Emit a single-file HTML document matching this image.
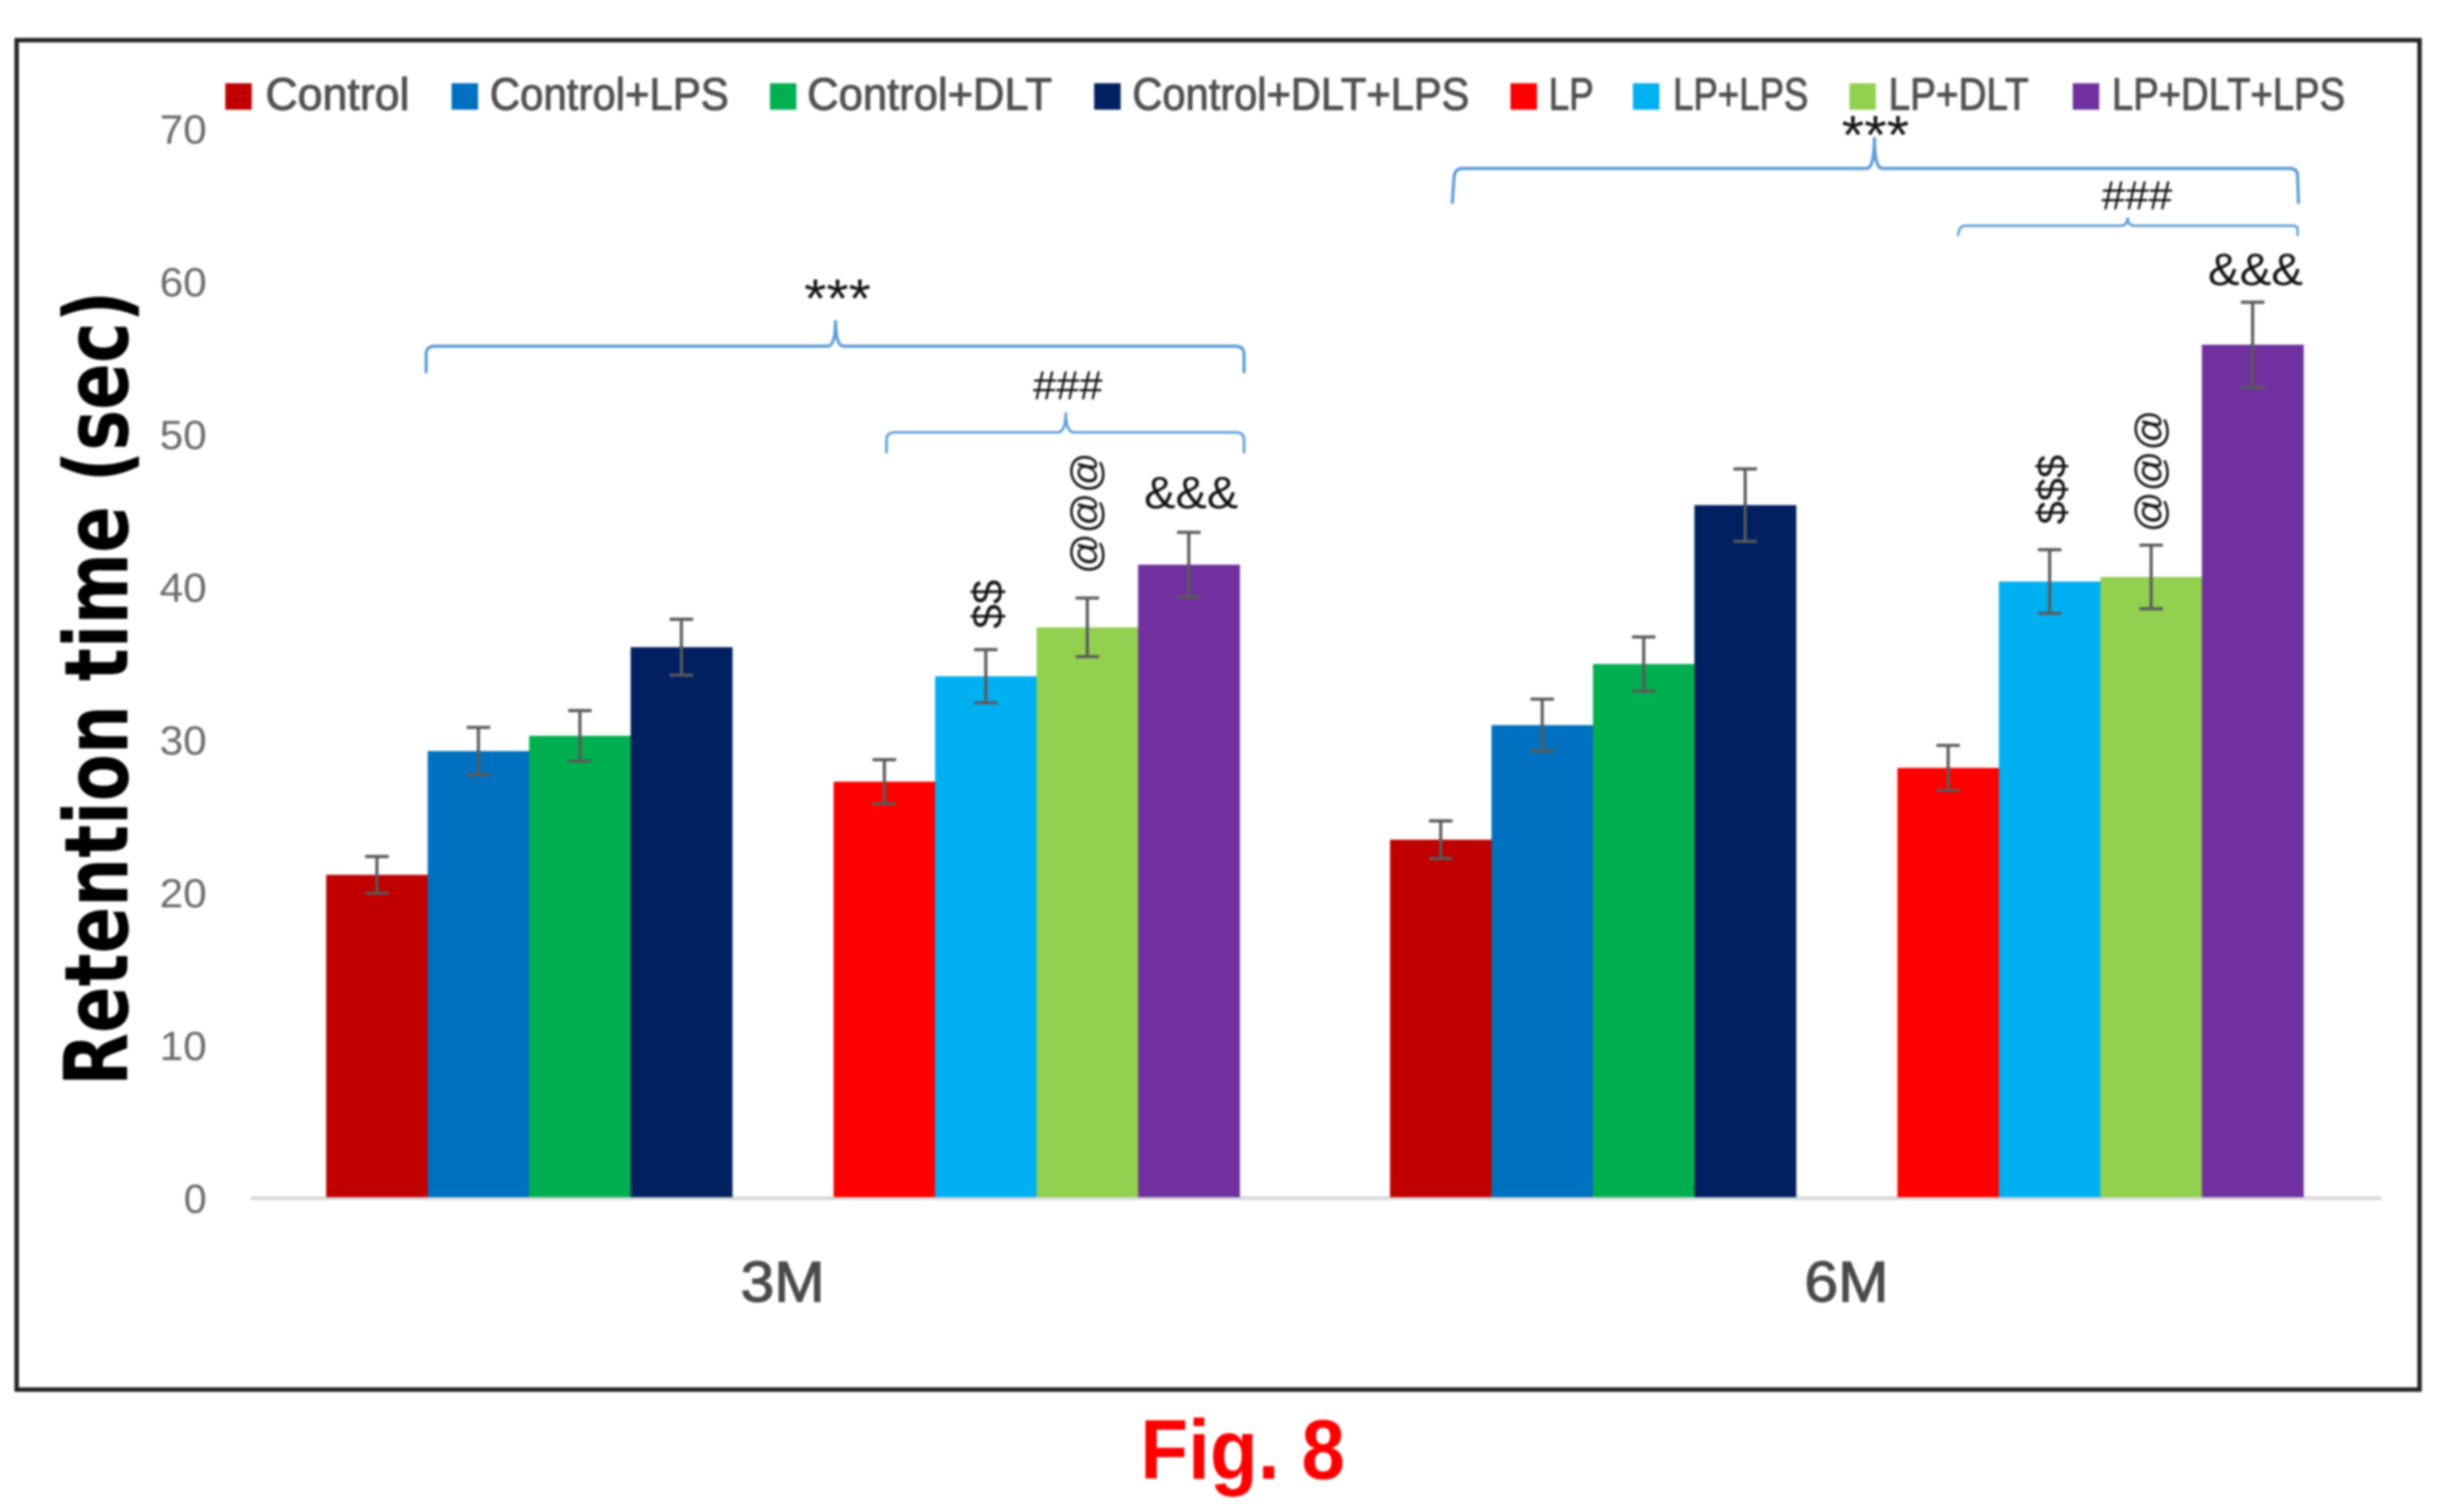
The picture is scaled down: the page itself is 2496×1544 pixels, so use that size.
<!DOCTYPE html>
<html lang="en">
<head>
<meta charset="utf-8">
<title>Fig. 8 Retention time</title>
<style>
html,body{margin:0;padding:0;background:#fff;width:2496px;height:1544px;overflow:hidden}
svg{display:block;filter:blur(1px)}
text{font-family:"Liberation Sans",sans-serif}
.legend-text{font-size:46px;fill:#505050;stroke:#505050;stroke-width:1px}
.note{fill:#111;font-size:44px}
.brace{fill:none;stroke:#5B9BD5}
</style>
</head>
<body>
<svg id="chart" xmlns="http://www.w3.org/2000/svg" width="2496" height="1544" viewBox="0 0 2496 1544">
  <rect x="17" y="41" width="2453" height="1378" fill="#fff" stroke="#222" stroke-width="4.5"/>

  <g>
    <g><rect x="230" y="85" width="27" height="27" fill="#C00000"/><text class="legend-text" x="271" y="112" textLength="147" lengthAdjust="spacingAndGlyphs">Control</text></g>
    <g><rect x="461" y="85" width="27" height="27" fill="#0070C0"/><text class="legend-text" x="500" y="112" textLength="244" lengthAdjust="spacingAndGlyphs">Control+LPS</text></g>
    <g><rect x="786" y="85" width="27" height="27" fill="#00B050"/><text class="legend-text" x="824" y="112" textLength="250" lengthAdjust="spacingAndGlyphs">Control+DLT</text></g>
    <g><rect x="1117" y="85" width="27" height="27" fill="#002060"/><text class="legend-text" x="1156" y="112" textLength="344" lengthAdjust="spacingAndGlyphs">Control+DLT+LPS</text></g>
    <g><rect x="1542" y="85" width="27" height="27" fill="#FF0000"/><text class="legend-text" x="1581" y="112" textLength="46" lengthAdjust="spacingAndGlyphs">LP</text></g>
    <g><rect x="1667" y="85" width="27" height="27" fill="#00B0F0"/><text class="legend-text" x="1708" y="112" textLength="138" lengthAdjust="spacingAndGlyphs">LP+LPS</text></g>
    <g><rect x="1888" y="85" width="27" height="27" fill="#92D050"/><text class="legend-text" x="1928" y="112" textLength="143" lengthAdjust="spacingAndGlyphs">LP+DLT</text></g>
    <g><rect x="2116" y="85" width="27" height="27" fill="#7030A0"/><text class="legend-text" x="2156" y="112" textLength="238" lengthAdjust="spacingAndGlyphs">LP+DLT+LPS</text></g>
  </g>

  <text transform="translate(130,703) rotate(-90)" text-anchor="middle" textLength="812" lengthAdjust="spacingAndGlyphs" style="font-family:'DejaVu Sans',sans-serif;font-weight:bold;font-size:90px" fill="#000">Retention time (sec)</text>

  <g id="ticks"></g>
  <line id="xaxis" stroke="#D9D9D9" stroke-width="4"/>
  <g id="bars"></g>
  <g id="errs"></g>
  <g id="cats"></g>

  <g>
    <path class="brace" stroke-width="3.2" d="M435 381 L435 362 Q435 354 443 353.5 L845 353.5 Q853 353 853 327 Q853 353 861 353.5 L1262 353.5 Q1270 354 1270 362 L1270 381"/>
    <path class="brace" stroke-width="2.6" d="M905 463 L905 449 Q905 442 913 441.5 L1080 441.5 Q1088 441 1088 421 Q1088 441 1096 441.5 L1262 441.5 Q1270 442 1270 449 L1270 463"/>
    <text class="note" x="855" y="324" text-anchor="middle" textLength="68" lengthAdjust="spacingAndGlyphs" style="font-size:56px">***</text>
    <text class="note" x="1090" y="408" text-anchor="middle" textLength="71" lengthAdjust="spacingAndGlyphs" style="font-size:42px">###</text>
    <text class="note" transform="translate(1023,617) rotate(-90)" text-anchor="middle" textLength="50" lengthAdjust="spacingAndGlyphs" style="font-size:44px">$$</text>
    <text class="note" transform="translate(1122,524) rotate(-90)" text-anchor="middle" textLength="124" lengthAdjust="spacingAndGlyphs" style="font-size:41px">@@@</text>
    <text class="note" x="1216" y="519" text-anchor="middle" textLength="96" lengthAdjust="spacingAndGlyphs" style="font-size:46px">&amp;&amp;&amp;</text>
  </g>
  <g transform="translate(-2.5,0)">
    <path class="brace" stroke-width="3.2" d="M1485 208 L1487 180 Q1488 172 1496 172 L1908 172 Q1916 172 1916 140 Q1916 172 1924 172 L2340 172 Q2348 172 2348 180 L2349 208"/>
    <path class="brace" stroke-width="2.4" d="M2001 241 L2003 234 Q2004 230.5 2010 230.5 L2168 230.5 Q2174 230.5 2174.5 222 Q2175 230.5 2181 230.5 L2342 230.5 Q2348 230.5 2348 234 L2348 241"/>
    <text class="note" x="1917" y="157" text-anchor="middle" textLength="69" lengthAdjust="spacingAndGlyphs" style="font-size:56px">***</text>
    <text class="note" x="2184" y="214" text-anchor="middle" textLength="72" lengthAdjust="spacingAndGlyphs" style="font-size:42px">###</text>
    <text class="note" transform="translate(2111,500) rotate(-90)" text-anchor="middle" textLength="71" lengthAdjust="spacingAndGlyphs" style="font-size:42px">$$$</text>
    <text class="note" transform="translate(2211,481) rotate(-90)" text-anchor="middle" textLength="125" lengthAdjust="spacingAndGlyphs" style="font-size:41px">@@@</text>
    <text class="note" x="2305" y="291" text-anchor="middle" textLength="97" lengthAdjust="spacingAndGlyphs" style="font-size:46px">&amp;&amp;&amp;</text>
  </g>

  <text x="1164" y="1510" textLength="209" lengthAdjust="spacingAndGlyphs" style="font-weight:bold;font-size:86px" fill="#FF0000">Fig. 8</text>
</svg>
<script>
const categories = ['3M', '6M'];
const seriesNames = ['Control', 'Control+LPS', 'Control+DLT', 'Control+DLT+LPS', 'LP', 'LP+LPS', 'LP+DLT', 'LP+DLT+LPS'];
const seriesColors = ['#C00000', '#0070C0', '#00B050', '#002060', '#FF0000', '#00B0F0', '#92D050', '#7030A0'];
const values3M = [21.1, 29.2, 30.2, 36.0, 27.2, 34.1, 37.3, 41.4];
const values6M = [23.4, 30.9, 34.9, 45.3, 28.1, 40.3, 40.6, 55.8];
const errors3M = [1.2, 1.55, 1.65, 1.83, 1.44, 1.74, 1.92, 2.12];
const errors6M = [1.23, 1.7, 1.77, 2.37, 1.47, 2.08, 2.08, 2.78];
const yTicks = [0, 10, 20, 30, 40, 50, 60, 70];

const NS = 'http://www.w3.org/2000/svg';
const baseY = 1222.5, unitPx = 15.6;
const plotLeft = 256, catWidth = 1086, catPad = 77, slot = 103.6, axisRight = 2431;
const yScale = v => baseY - v * unitPx;
const xSlot = (c, s) => plotLeft + catWidth * c + catPad + slot * (s < 4 ? s : s + 1);
const xCatCenter = c => plotLeft + catWidth * c + catWidth / 2;
const slug = s => s.toLowerCase().replace(/\+/g, '-');

function mk(tag, attrs, parent) {
  const el = document.createElementNS(NS, tag);
  for (const k in attrs) el.setAttribute(k, attrs[k]);
  parent.appendChild(el);
  return el;
}

const xaxis = document.getElementById('xaxis');
xaxis.setAttribute('x1', plotLeft);
xaxis.setAttribute('x2', axisRight);
xaxis.setAttribute('y1', baseY + 1);
xaxis.setAttribute('y2', baseY + 1);

const ticksG = document.getElementById('ticks');
yTicks.forEach(t => {
  const el = mk('text', {x: 211, y: yScale(t) + 16, 'text-anchor': 'end', fill: '#6a6a6a', 'font-size': 42}, ticksG);
  
  
  if (t > 0) { el.setAttribute('textLength', 48); el.setAttribute('lengthAdjust', 'spacingAndGlyphs'); }
  el.textContent = t;
});

const barsG = document.getElementById('bars');
const errsG = document.getElementById('errs');
[values3M, values6M].forEach((vals, c) => {
  const errs = c === 0 ? errors3M : errors6M;
  vals.forEach((v, s) => {
    const x = xSlot(c, s), top = yScale(v);
    const bar = mk('rect', {x: x, y: top, width: slot + 0.4, height: baseY - top, fill: seriesColors[s]}, barsG);
    
    
    const cx = x + slot / 2, yu = yScale(v + errs[s]), yl = yScale(v - errs[s]);
    const err = mk('path', {d: 'M' + (cx - 12) + ' ' + yu + 'H' + (cx + 12) + 'M' + cx + ' ' + yu + 'V' + yl + 'M' + (cx - 12) + ' ' + yl + 'H' + (cx + 12), fill: 'none', stroke: '#5a5a5a', 'stroke-width': 3.2}, errsG);
    
    
  });
});

const catsG = document.getElementById('cats');
categories.forEach((name, c) => {
  const el = mk('text', {x: xCatCenter(c), y: 1329, 'text-anchor': 'middle', fill: '#4a4a4a', stroke: '#4a4a4a', 'stroke-width': 1.2, 'font-size': 58, textLength: 86, lengthAdjust: 'spacingAndGlyphs'}, catsG);
  
  
  el.textContent = name;
});
</script>
</body>
</html>
